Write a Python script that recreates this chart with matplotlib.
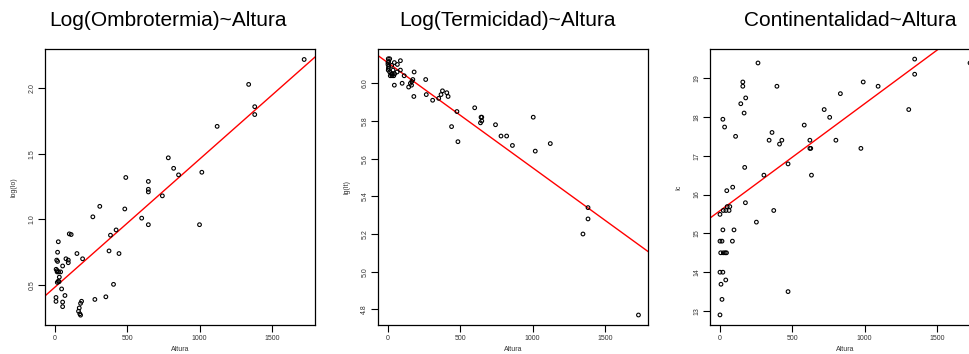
import matplotlib
matplotlib.use("Agg")
import matplotlib.pyplot as plt
import numpy as np

plt.rcParams['font.family'] = ['Liberation Sans', 'DejaVu Sans']

# Log(Ombrotermia) ~ Altura
alt_ombro = [1724, 1340, 1382, 1382, 1122, 784, 821, 855, 1016, 1000, 490, 646, 646, 646,
             743, 483, 310, 262, 600, 646, 423, 384, 99, 112, 23, 18, 152, 374, 443, 191,
             76, 92, 92, 12, 18, 53, 8, 15, 25, 15, 39, 30, 23, 28, 16, 46, 405, 7, 7, 69,
             53, 53, 276, 352, 184, 177, 168, 163, 172, 177]
log_io = [2.22, 2.03, 1.86, 1.80, 1.71, 1.47, 1.39, 1.34, 1.36, 0.96, 1.32, 1.29, 1.23, 1.21,
          1.18, 1.08, 1.10, 1.02, 1.01, 0.96, 0.92, 0.88, 0.89, 0.885, 0.83, 0.75, 0.74, 0.76,
          0.74, 0.70, 0.70, 0.69, 0.67, 0.69, 0.68, 0.645, 0.62, 0.61, 0.60, 0.60, 0.60, 0.56,
          0.53, 0.525, 0.52, 0.47, 0.505, 0.405, 0.375, 0.42, 0.37, 0.335, 0.39, 0.41, 0.376,
          0.36, 0.325, 0.30, 0.28, 0.27]

# Log(Termicidad) ~ Altura
alt_termi = [1733, 1349, 1384, 1384, 1019, 1123, 1005, 484, 440, 477, 600, 644, 649, 649,
             640, 744, 782, 821, 861, 261, 265, 309, 351, 367, 377, 407, 416, 181, 179, 172,
             165, 155, 163, 143, 98, 44, 86, 86, 65, 44, 63, 2, 12, 0, 0, 5, 3, 2, 12, 23,
             16, 30, 46, 35, 26, 112, 5, 28, 40]
log_it = [4.77, 5.20, 5.28, 5.34, 5.64, 5.68, 5.82, 5.69, 5.77, 5.85, 5.87, 5.82, 5.82, 5.80,
          5.79, 5.78, 5.72, 5.72, 5.67, 6.02, 5.94, 5.91, 5.92, 5.94, 5.96, 5.95, 5.93, 6.06,
          5.93, 6.02, 6.01, 6.00, 5.99, 5.98, 6.00, 5.99, 6.12, 6.07, 6.10, 6.11, 6.06, 6.13,
          6.13, 6.11, 6.10, 6.09, 6.08, 6.07, 6.06, 6.05, 6.04, 6.05, 6.05, 6.07, 6.095, 6.04,
          6.115, 6.04, 6.04]

# Continentalidad ~ Altura
alt_conti = [263, 158, 158, 178, 144, 167, 394, 20, 32, 108, 360, 340, 428, 412, 171, 304,
             471, 583, 622, 622, 628, 633, 721, 759, 833, 802, 991, 975, 1094, 1306, 1347,
             1347, 1730, 47, 88, 176, 50, 68, 23, 41, 63, 0, 252, 372, 20, 97, 0, 14, 86, 5,
             23, 36, 45, 0, 20, 40, 7, 14, 471, 0]
ic = [19.39, 18.90, 18.79, 18.49, 18.34, 18.10, 18.79, 17.94, 17.74, 17.50, 17.60, 17.40,
      17.40, 17.30, 16.70, 16.50, 16.79, 17.79, 17.40, 17.19, 17.19, 16.50, 18.19, 17.99,
      18.60, 17.40, 18.90, 17.19, 18.79, 18.19, 19.49, 19.10, 19.39, 16.10, 16.19, 15.79,
      15.69, 15.69, 15.59, 15.59, 15.59, 15.49, 15.29, 15.59, 15.09, 15.09, 14.80, 14.80,
      14.80, 14.50, 14.50, 14.50, 14.50, 14.00, 14.00, 13.80, 13.69, 13.30, 13.50, 12.90]

panels = [
    ("Log(Ombrotermia)~Altura", alt_ombro, log_io, "log(Io)",
     [0.5, 1.0, 1.5, 2.0], ["0.5", "1.0", "1.5", "2.0"], (0.195, 2.30)),
    ("Log(Termicidad)~Altura", alt_termi, log_it, "lg(It)",
     [4.8, 5.0, 5.2, 5.4, 5.6, 5.8, 6.0], ["4.8", "5.0", "5.2", "5.4", "5.6", "5.8", "6.0"],
     (4.717, 6.182)),
    ("Continentalidad~Altura", alt_conti, ic, "Ic",
     [13, 14, 15, 16, 17, 18, 19], ["13", "14", "15", "16", "17", "18", "19"], (12.64, 19.75)),
]

W, H = 970, 354
fig = plt.figure(figsize=(W / 100, H / 100), dpi=100)

# pixel positions of each panel (left, title centre)
lefts = [45, 378, 710]
title_x = [168, 508, 850]
ax_w, ax_top, ax_bot = 270, 49, 325

for (title, xs, ys, ylab, yt, ytl, ylim), left, tx in zip(panels, lefts, title_x):
    ax = fig.add_axes([left / W, 1 - ax_bot / H, ax_w / W, (ax_bot - ax_top) / H])
    xs = np.array(xs, dtype=float)
    ys = np.array(ys, dtype=float)
    ax.scatter(xs, ys, s=7, facecolors='none', edgecolors='black', linewidths=0.8, zorder=3)

    # lm fit line across the panel
    b, a = np.polyfit(xs, ys, 1)
    xl = np.array([-200, 2000])
    ax.plot(xl, a + b * xl, color='red', lw=1.0, zorder=2)

    ax.set_xlim(-69, 1799)
    ax.set_ylim(*ylim)
    ax.set_xticks([0, 500, 1000, 1500])
    ax.set_xticklabels(["0", "500", "1000", "1500"])
    ax.set_yticks(yt)
    ax.set_yticklabels(ytl, rotation=90, va='center')
    ax.tick_params(direction='out', length=5, width=0.8, labelsize=5,
                   labelcolor='#333333', pad=2)
    for sp in ax.spines.values():
        sp.set_linewidth(0.9)
    ax.set_xlabel("Altura", fontsize=5, color='#333333', labelpad=3)
    ax.set_ylabel(ylab, fontsize=5, color='#333333', labelpad=8)

    fig.text(tx / W, 1 - 21 / H, title, ha='center', va='center', fontsize=15)

fig.savefig("out.png", dpi=100)
